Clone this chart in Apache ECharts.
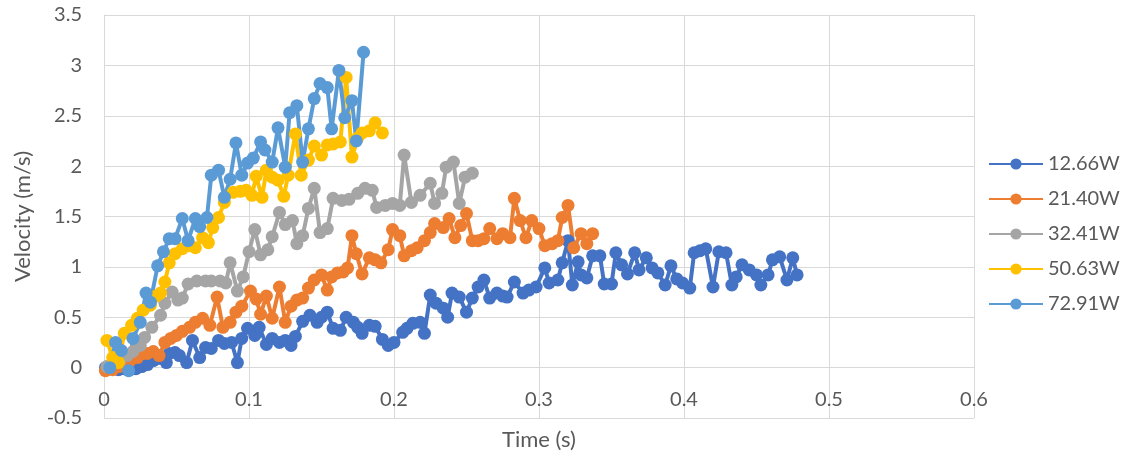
<!DOCTYPE html>
<html>
<head>
<meta charset="utf-8">
<script src="https://cdn.jsdelivr.net/npm/echarts@6/dist/echarts.min.js"></script>
<style>
html,body{margin:0;padding:0;background:#fff;}
#chart{width:1127px;height:455px;}
</style>
</head>
<body>
<div id="chart"></div>
<script>
var seriesNames = ['12.66W', '21.40W', '32.41W', '50.63W', '72.91W'];
var seriesColors = ['#4472C4', '#ED7D31', '#A5A5A5', '#FFC000', '#5B9BD5'];
var xTicks = [0, 0.1, 0.2, 0.3, 0.4, 0.5, 0.6];
var yTicks = [-0.5, 0, 0.5, 1, 1.5, 2, 2.5, 3, 3.5];

var w1266 = [
[0.001,0.00],[0.006,-0.01],[0.010,-0.02],[0.014,-0.01],[0.018,-0.02],[0.022,-0.01],[0.026,0.01],[0.030,0.03],
[0.034,0.07],[0.037,0.09],[0.040,0.10],[0.043,0.05],[0.045,0.14],[0.049,0.15],[0.052,0.12],[0.057,0.05],
[0.061,0.27],[0.066,0.10],[0.070,0.20],[0.074,0.19],[0.079,0.27],[0.083,0.24],[0.088,0.25],[0.092,0.05],
[0.095,0.29],[0.099,0.39],[0.104,0.32],[0.107,0.40],[0.112,0.23],[0.116,0.29],[0.121,0.25],[0.125,0.27],
[0.129,0.22],[0.132,0.31],[0.137,0.46],[0.142,0.52],[0.147,0.45],[0.150,0.50],[0.154,0.55],[0.158,0.39],
[0.163,0.37],[0.167,0.50],[0.172,0.45],[0.175,0.40],[0.178,0.34],[0.183,0.42],[0.187,0.41],[0.192,0.28],
[0.196,0.22],[0.200,0.25],[0.206,0.35],[0.209,0.39],[0.213,0.44],[0.218,0.45],[0.221,0.34],[0.225,0.72],
[0.229,0.64],[0.234,0.59],[0.237,0.50],[0.240,0.74],[0.245,0.70],[0.250,0.55],[0.254,0.69],[0.258,0.80],
[0.262,0.87],[0.266,0.69],[0.271,0.74],[0.275,0.71],[0.278,0.70],[0.283,0.85],[0.289,0.74],[0.293,0.77],
[0.298,0.80],[0.304,0.99],[0.307,0.84],[0.313,0.87],[0.316,1.04],[0.320,1.26],[0.323,0.82],[0.327,1.05],
[0.329,0.92],[0.333,0.89],[0.337,1.11],[0.342,1.11],[0.345,0.83],[0.350,0.83],[0.353,1.14],[0.357,1.02],
[0.361,0.93],[0.366,1.14],[0.369,0.97],[0.374,1.09],[0.378,0.99],[0.382,0.94],[0.387,0.82],[0.391,1.01],
[0.395,0.88],[0.399,0.84],[0.404,0.79],[0.407,1.14],[0.411,1.16],[0.415,1.18],[0.420,0.80],[0.424,1.15],
[0.429,1.14],[0.433,0.82],[0.436,0.90],[0.440,1.02],[0.445,0.97],[0.450,0.92],[0.453,0.82],[0.458,0.92],
[0.461,1.07],[0.466,1.10],[0.471,0.87],[0.475,1.09],[0.478,0.92]
];

var w2140 = [
[0.001,-0.03],[0.006,-0.02],[0.010,0.01],[0.014,0.04],[0.018,0.07],[0.023,0.10],[0.027,0.14],[0.030,0.14],
[0.034,0.16],[0.038,0.12],[0.042,0.25],[0.046,0.29],[0.050,0.32],[0.054,0.36],[0.059,0.40],[0.063,0.45],
[0.068,0.49],[0.073,0.42],[0.078,0.70],[0.082,0.40],[0.087,0.45],[0.091,0.55],[0.095,0.61],[0.101,0.76],
[0.105,0.68],[0.108,0.53],[0.112,0.71],[0.116,0.49],[0.121,0.80],[0.125,0.45],[0.129,0.61],[0.133,0.67],
[0.137,0.69],[0.141,0.79],[0.145,0.87],[0.150,0.92],[0.154,0.77],[0.157,0.90],[0.161,0.94],[0.165,0.95],
[0.168,0.99],[0.171,1.31],[0.174,1.13],[0.178,0.93],[0.183,1.09],[0.187,1.07],[0.191,1.04],[0.196,1.17],
[0.199,1.37],[0.204,1.31],[0.207,1.11],[0.212,1.16],[0.216,1.19],[0.221,1.26],[0.225,1.34],[0.228,1.43],
[0.234,1.39],[0.238,1.48],[0.242,1.29],[0.246,1.41],[0.250,1.53],[0.254,1.26],[0.258,1.26],[0.262,1.28],
[0.266,1.38],[0.271,1.28],[0.275,1.33],[0.280,1.29],[0.283,1.68],[0.287,1.46],[0.291,1.29],[0.295,1.46],
[0.300,1.38],[0.304,1.21],[0.309,1.23],[0.313,1.26],[0.316,1.49],[0.320,1.61],[0.324,1.19],[0.329,1.33],
[0.333,1.23],[0.337,1.33]
];

var w3241 = [
[0.002,0.01],[0.006,0.04],[0.011,0.07],[0.016,0.12],[0.020,0.16],[0.025,0.22],[0.028,0.30],[0.033,0.40],
[0.039,0.52],[0.042,0.64],[0.047,0.75],[0.051,0.67],[0.054,0.69],[0.058,0.83],[0.064,0.86],[0.070,0.86],
[0.074,0.86],[0.080,0.86],[0.084,0.84],[0.087,1.04],[0.092,0.76],[0.096,0.90],[0.100,1.15],[0.104,1.37],
[0.108,1.12],[0.113,1.17],[0.116,1.30],[0.121,1.54],[0.125,1.42],[0.130,1.46],[0.133,1.23],[0.137,1.31],
[0.141,1.58],[0.145,1.78],[0.149,1.34],[0.154,1.38],[0.158,1.68],[0.164,1.66],[0.169,1.67],[0.175,1.73],
[0.180,1.78],[0.185,1.76],[0.188,1.59],[0.194,1.61],[0.199,1.63],[0.204,1.61],[0.207,2.11],[0.212,1.64],
[0.218,1.71],[0.225,1.83],[0.228,1.63],[0.233,1.73],[0.236,1.99],[0.241,2.04],[0.245,1.63],[0.249,1.89],
[0.254,1.93]
];

var w5063 = [
[0.002,0.27],[0.006,0.10],[0.010,0.05],[0.014,0.34],[0.019,0.42],[0.023,0.49],[0.027,0.57],[0.032,0.62],
[0.036,0.71],[0.039,0.74],[0.042,0.85],[0.045,1.04],[0.049,1.13],[0.054,1.18],[0.058,1.21],[0.063,1.19],
[0.068,1.29],[0.072,1.24],[0.075,1.39],[0.079,1.49],[0.083,1.64],[0.089,1.74],[0.094,1.75],[0.098,1.76],
[0.102,1.71],[0.105,1.90],[0.109,1.69],[0.112,1.96],[0.116,1.89],[0.120,1.86],[0.124,1.70],[0.127,1.91],
[0.132,2.32],[0.136,1.91],[0.141,2.06],[0.145,2.20],[0.150,2.11],[0.154,2.21],[0.158,2.22],[0.163,2.24],
[0.167,2.88],[0.171,2.09],[0.175,2.28],[0.178,2.33],[0.183,2.35],[0.187,2.43],[0.192,2.33]
];

var w7291 = [
[0.004,0.00],[0.008,0.25],[0.012,0.17],[0.017,-0.03],[0.020,0.29],[0.025,0.45],[0.029,0.74],[0.032,0.65],
[0.037,1.01],[0.041,1.15],[0.045,1.28],[0.049,1.28],[0.054,1.48],[0.058,1.26],[0.063,1.48],[0.066,1.40],
[0.071,1.49],[0.074,1.91],[0.079,1.96],[0.083,1.69],[0.087,1.87],[0.091,2.23],[0.095,1.91],[0.099,2.03],
[0.103,2.08],[0.108,2.24],[0.111,2.16],[0.116,2.04],[0.120,2.38],[0.125,1.99],[0.128,2.53],[0.133,2.60],
[0.137,2.04],[0.141,2.37],[0.145,2.67],[0.149,2.82],[0.154,2.78],[0.157,2.37],[0.162,2.95],[0.166,2.48],
[0.171,2.65],[0.174,2.25],[0.179,3.13]
];

var allData = [w1266, w2140, w3241, w5063, w7291];
var FONT = 'Lato';
var TXT = '#595959';
var GRID = '#d9d9d9';

var chart = echarts.init(document.getElementById('chart'), null, {renderer: 'canvas'});
chart.setOption({
  animation: false,
  backgroundColor: '#ffffff',
  textStyle: {fontFamily: FONT, color: TXT},
  grid: {left: 104, right: 153, top: 15, bottom: 37, containLabel: false, outerBoundsMode: 'none'},
  legend: {
    orient: 'vertical',
    left: 983,
    top: 149,
    itemWidth: 54,
    itemHeight: 14,
    itemGap: 15,
    data: seriesNames,
    textStyle: {fontFamily: FONT, fontSize: 20, lineHeight: 20, color: TXT}
  },
  xAxis: {
    type: 'value',
    position: 'bottom',
    min: xTicks[0],
    max: xTicks[xTicks.length - 1],
    interval: 0.1,
    name: 'Time (s)',
    nameLocation: 'middle',
    nameGap: 61,
    nameTextStyle: {fontFamily: FONT, fontSize: 22, color: TXT},
    axisLine: {show: true, onZero: false, lineStyle: {color: GRID, width: 1}},
    axisTick: {show: false},
    axisLabel: {fontFamily: FONT, fontSize: 20, color: TXT, margin: 22},
    splitLine: {show: true, lineStyle: {color: GRID, width: 1}}
  },
  yAxis: {
    type: 'value',
    min: yTicks[0],
    max: yTicks[yTicks.length - 1],
    interval: 0.5,
    name: 'Velocity (m/s)',
    nameLocation: 'middle',
    nameGap: 70,
    nameTextStyle: {fontFamily: FONT, fontSize: 22, color: TXT},
    axisLine: {show: true, lineStyle: {color: GRID, width: 1}},
    axisTick: {show: false},
    axisLabel: {fontFamily: FONT, fontSize: 20, color: TXT, margin: 22},
    splitLine: {show: true, lineStyle: {color: GRID, width: 1}}
  },
  series: seriesNames.map(function (n, i) {
    return {
      name: n,
      type: 'line',
      data: allData[i],
      color: seriesColors[i],
      symbol: 'circle',
      symbolSize: 13,
      showAllSymbol: true,
      lineStyle: {width: 4, color: seriesColors[i]},
      itemStyle: {color: seriesColors[i], borderWidth: 0},
      emphasis: {disabled: true}
    };
  })
});
// Excel draws the horizontal axis where the vertical axis equals zero
var zeroY = chart.convertToPixel({yAxisIndex: 0}, 0);
var minY = chart.convertToPixel({yAxisIndex: 0}, yTicks[0]);
chart.setOption({xAxis: {offset: zeroY - minY}});
</script>
</body>
</html>
